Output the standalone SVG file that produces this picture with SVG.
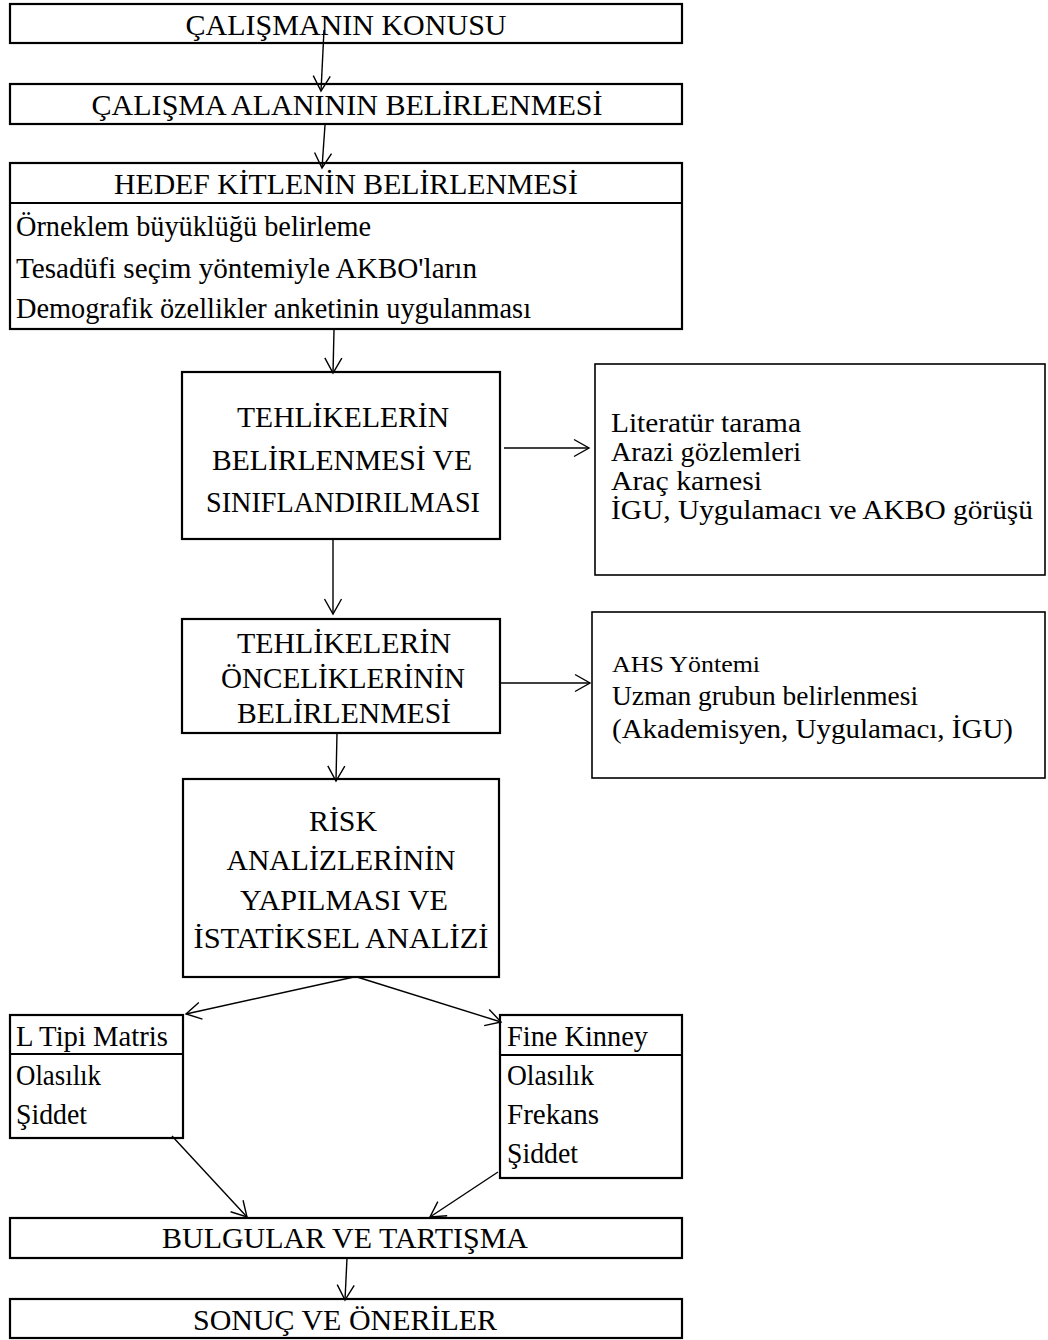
<svg xmlns="http://www.w3.org/2000/svg" width="1048" height="1340" viewBox="0 0 1048 1340">
<style>
.box{fill:#fff;stroke:#000;stroke-width:2.2}
.sbox{fill:#fff;stroke:#000;stroke-width:1.6}
.div{stroke:#000;stroke-width:2}
.t{font-family:"Liberation Serif","Times New Roman",serif;font-size:29.5px;fill:#000}
.s{font-size:27px}
.c{text-anchor:middle}
.arr{stroke:#000;stroke-width:1.4;fill:none;marker-end:url(#ah)}
</style>
<defs>
<marker id="ah" markerUnits="userSpaceOnUse" markerWidth="18" markerHeight="20" viewBox="0 0 18 20" refX="16" refY="10" orient="auto">
<path d="M1,1.5 L16,10 L1,18.5" fill="none" stroke="#000" stroke-width="1.4"/>
</marker>
</defs>
<rect width="1048" height="1340" fill="#fff"/>

<g id="n1">
<rect class="box" x="10" y="4" width="672" height="39"/>
<text class="t c" x="346" y="35" textLength="321" lengthAdjust="spacingAndGlyphs">ÇALIŞMANIN KONUSU</text>
</g>
<g id="n2">
<rect class="box" x="10" y="84" width="672" height="40"/>
<text class="t c" x="347" y="115" textLength="511" lengthAdjust="spacingAndGlyphs">ÇALIŞMA ALANININ BELİRLENMESİ</text>
</g>
<g id="n3">
<rect class="box" x="10" y="163" width="672" height="166"/>
<line class="div" x1="10" y1="203" x2="682" y2="203"/>
<text class="t c" x="346" y="194" textLength="464" lengthAdjust="spacingAndGlyphs">HEDEF KİTLENİN BELİRLENMESİ</text>
<text class="t" x="16" y="236" textLength="355" lengthAdjust="spacingAndGlyphs">Örneklem büyüklüğü belirleme</text>
<text class="t" x="16" y="278" textLength="461" lengthAdjust="spacingAndGlyphs">Tesadüfi seçim yöntemiyle AKBO'ların</text>
<text class="t" x="16" y="318" textLength="515" lengthAdjust="spacingAndGlyphs">Demografik özellikler anketinin uygulanması</text>
</g>
<g id="n4">
<rect class="box" x="182" y="372" width="318" height="167"/>
<text class="t c" x="343" y="427" textLength="212" lengthAdjust="spacingAndGlyphs">TEHLİKELERİN</text>
<text class="t c" x="342" y="470" textLength="260" lengthAdjust="spacingAndGlyphs">BELİRLENMESİ VE</text>
<text class="t c" x="343" y="512" textLength="274" lengthAdjust="spacingAndGlyphs">SINIFLANDIRILMASI</text>
</g>
<g id="n5">
<rect class="sbox" x="595" y="364" width="450" height="211"/>
<text class="t s" x="611" y="432" textLength="190" lengthAdjust="spacingAndGlyphs">Literatür tarama</text>
<text class="t s" x="611" y="461" textLength="190" lengthAdjust="spacingAndGlyphs">Arazi gözlemleri</text>
<text class="t s" x="611" y="490" textLength="151" lengthAdjust="spacingAndGlyphs">Araç karnesi</text>
<text class="t s" x="611" y="519" textLength="422" lengthAdjust="spacingAndGlyphs">İGU, Uygulamacı ve AKBO görüşü</text>
</g>
<g id="n6">
<rect class="box" x="182" y="619" width="318" height="114"/>
<text class="t c" x="344" y="653" textLength="214" lengthAdjust="spacingAndGlyphs">TEHLİKELERİN</text>
<text class="t c" x="343" y="688" textLength="244" lengthAdjust="spacingAndGlyphs">ÖNCELİKLERİNİN</text>
<text class="t c" x="344" y="723" textLength="214" lengthAdjust="spacingAndGlyphs">BELİRLENMESİ</text>
</g>
<g id="n7">
<rect class="sbox" x="592" y="612" width="453" height="166"/>
<text class="t" x="612" y="672" style="font-size:24px" textLength="148" lengthAdjust="spacingAndGlyphs">AHS Yöntemi</text>
<text class="t" x="612" y="705" style="font-size:26.5px" textLength="306" lengthAdjust="spacingAndGlyphs">Uzman grubun belirlenmesi</text>
<text class="t" x="612" y="738" style="font-size:28px" textLength="401" lengthAdjust="spacingAndGlyphs">(Akademisyen, Uygulamacı, İGU)</text>
</g>
<g id="n8">
<rect class="box" x="183" y="779" width="316" height="198"/>
<text class="t c" x="343" y="831" textLength="68" lengthAdjust="spacingAndGlyphs">RİSK</text>
<text class="t c" x="341" y="870" textLength="229" lengthAdjust="spacingAndGlyphs">ANALİZLERİNİN</text>
<text class="t c" x="344" y="910" textLength="208" lengthAdjust="spacingAndGlyphs">YAPILMASI VE</text>
<text class="t c" x="341" y="948" textLength="295" lengthAdjust="spacingAndGlyphs">İSTATİKSEL ANALİZİ</text>
</g>
<g id="n9">
<rect class="box" x="10" y="1015" width="173" height="123"/>
<line class="div" x1="10" y1="1054" x2="183" y2="1054"/>
<text class="t" x="16" y="1046" textLength="152" lengthAdjust="spacingAndGlyphs">L Tipi Matris</text>
<text class="t" x="16" y="1085" textLength="85" lengthAdjust="spacingAndGlyphs">Olasılık</text>
<text class="t" x="16" y="1124" textLength="71" lengthAdjust="spacingAndGlyphs">Şiddet</text>
</g>
<g id="n10">
<rect class="box" x="500" y="1015" width="182" height="163"/>
<line class="div" x1="500" y1="1055" x2="682" y2="1055"/>
<text class="t" x="507" y="1046" textLength="141" lengthAdjust="spacingAndGlyphs">Fine Kinney</text>
<text class="t" x="507" y="1085" textLength="87" lengthAdjust="spacingAndGlyphs">Olasılık</text>
<text class="t" x="507" y="1124" textLength="92" lengthAdjust="spacingAndGlyphs">Frekans</text>
<text class="t" x="507" y="1163" textLength="71" lengthAdjust="spacingAndGlyphs">Şiddet</text>
</g>
<g id="n11">
<rect class="box" x="10" y="1218" width="672" height="40"/>
<text class="t c" x="345" y="1248" textLength="366" lengthAdjust="spacingAndGlyphs">BULGULAR VE TARTIŞMA</text>
</g>
<g id="n12">
<rect class="box" x="10" y="1299" width="672" height="39"/>
<text class="t c" x="345" y="1330" textLength="304" lengthAdjust="spacingAndGlyphs">SONUÇ VE ÖNERİLER</text>
</g>

<g id="connectors">
<line class="arr" x1="324" y1="30" x2="321" y2="91"/>
<line class="arr" x1="325" y1="125" x2="322" y2="168"/>
<line class="arr" x1="334" y1="330" x2="333" y2="373"/>
<line class="arr" x1="504" y1="448" x2="589" y2="448"/>
<line class="arr" x1="333" y1="539" x2="333" y2="614"/>
<line class="arr" x1="500" y1="683" x2="590" y2="683"/>
<line class="arr" x1="337" y1="733" x2="336" y2="781"/>
<line class="arr" x1="354" y1="977" x2="186" y2="1014"/>
<line class="arr" x1="357" y1="977" x2="501" y2="1022"/>
<line class="arr" x1="172" y1="1136" x2="247" y2="1217"/>
<line class="arr" x1="498" y1="1172" x2="430" y2="1217"/>
<line class="arr" x1="347" y1="1258" x2="345" y2="1300"/>
</g>
</svg>
